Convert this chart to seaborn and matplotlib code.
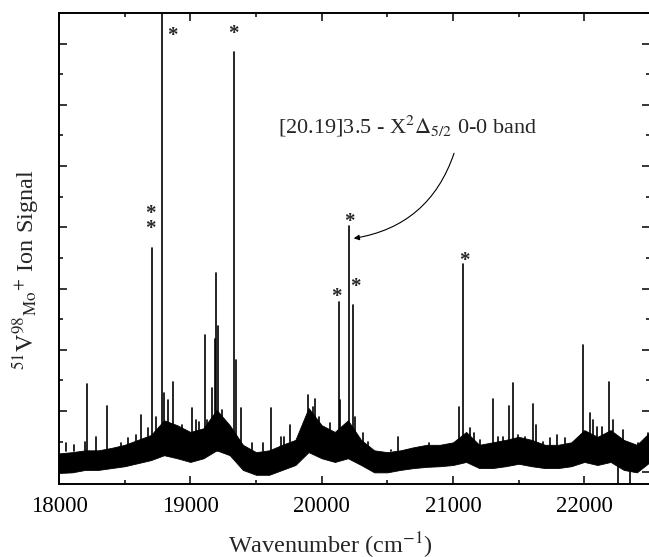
import numpy as np
import pandas as pd
import matplotlib
matplotlib.use("Agg")
import matplotlib.pyplot as plt
import seaborn as sns
from matplotlib.ticker import MultipleLocator

sns.set_style("ticks")
plt.rcParams["font.family"] = ["Liberation Serif", "DejaVu Serif"]
plt.rcParams["mathtext.fontset"] = "stix"

# Noise floor of the scan, read every 100 cm-1 (lower and upper edge)
band_wn = np.arange(18000, 22501, 100)
band_low = [-0.01, 0.00, 0.04, 0.04, 0.07, 0.10, 0.15, 0.20, 0.28, 0.23,
            0.17, 0.23, 0.36, 0.28, 0.04, -0.04, -0.04, 0.04, 0.12, 0.33,
            0.23, 0.17, 0.23, 0.12, 0.00, 0.00, 0.04, 0.07, 0.09, 0.10,
            0.12, 0.17, 0.07, 0.07, 0.10, 0.14, 0.10, 0.07, 0.07, 0.10,
            0.17, 0.12, 0.17, 0.04, 0.00, 0.17]
band_high = [0.31, 0.33, 0.36, 0.36, 0.40, 0.45, 0.53, 0.61, 0.85, 0.77,
             0.66, 0.72, 1.02, 0.77, 0.45, 0.33, 0.36, 0.45, 0.53, 1.05,
             0.77, 0.66, 0.85, 0.53, 0.36, 0.33, 0.36, 0.41, 0.45, 0.45,
             0.49, 0.66, 0.45, 0.49, 0.53, 0.58, 0.53, 0.45, 0.45, 0.49,
             0.69, 0.58, 0.69, 0.53, 0.45, 0.66]

# Resolved lines: position (cm-1) and peak height (arb. units)
peak_wn = [18053, 18115, 18198, 18214, 18282, 18366, 18420, 18473, 18527, 18588,
           18626, 18679, 18708, 18740, 18788, 18802, 18832, 18870, 18939, 19015,
           19046, 19069, 19115, 19130, 19168, 19191, 19198, 19214, 19244, 19282,
           19331, 19344, 19389, 19466, 19557, 19618, 19687, 19710, 19756, 19817,
           19893, 19931, 19947, 19977, 20015, 20061, 20092, 20130, 20137, 20210,
           20237, 20252, 20275, 20313, 20351, 20527, 20580, 20680, 20817, 21000,
           21046, 21076, 21130, 21160, 21206, 21305, 21344, 21382, 21428, 21458,
           21496, 21550, 21611, 21634, 21687, 21741, 21794, 21855, 21916, 21992,
           22046, 22069, 22099, 22138, 22191, 22221, 22298, 22405, 22481]
peak_top = [0.48, 0.45, 0.49, 1.44, 0.58, 1.08, 0.36, 0.48, 0.56, 0.61,
            0.93, 0.72, 3.66, 0.90, 7.80, 1.29, 1.18, 1.47, 0.77, 1.05,
            0.85, 0.82, 2.24, 0.85, 1.38, 2.17, 3.25, 2.39, 1.02, 0.64,
            6.86, 1.83, 1.05, 0.48, 0.48, 1.05, 0.58, 0.58, 0.77, 0.53,
            1.26, 1.07, 1.20, 0.90, 0.64, 0.80, 0.58, 2.78, 1.18, 4.03,
            2.73, 0.90, 0.58, 0.64, 0.49, 0.36, 0.58, 0.36, 0.48, 0.41,
            1.07, 3.40, 0.72, 0.64, 0.53, 1.20, 0.58, 0.58, 1.08, 1.46,
            0.61, 0.58, 1.11, 0.77, 0.49, 0.56, 0.61, 0.56, 0.48, 2.08,
            0.97, 0.85, 0.74, 0.74, 1.47, 0.85, 0.69, 0.48, 0.64]

# Downward glitches near the end of the scan
dip_wn = [22260, 22351]
dip_bottom = [-0.17, -0.17]

# Lines marked with asterisks
star_wn = [18860, 19328, 18695, 18695, 20214, 20115, 20260, 21084]
star_y = [7.12, 7.16, 4.22, 3.98, 4.09, 2.87, 3.03, 3.45]


def main():
    rows = []
    for i, (w, t) in enumerate(zip(peak_wn, peak_top)):
        rows += [(i, w, 0.35), (i, w, t)]
    for j, (w, b) in enumerate(zip(dip_wn, dip_bottom)):
        rows += [(1000 + j, w, 0.10), (1000 + j, w, b)]
    lines = pd.DataFrame(rows, columns=["line", "wn", "signal"])

    fig = plt.figure(figsize=(6.49, 5.57), dpi=100)
    ax = fig.add_axes([59 / 649, 1 - 484 / 557, (650 - 59) / 649, (484 - 13) / 557])

    ax.fill_between(band_wn, band_low, band_high, color="black", lw=0.6)
    sns.lineplot(data=lines, x="wn", y="signal", units="line", estimator=None,
                 color="black", lw=1.2, ax=ax, legend=False)

    for w, y in zip(star_wn, star_y):
        ax.text(w, y, "*", ha="center", va="center", fontsize=15,
                fontweight="bold")

    ax.text(20657, 5.53, r"[20.19]3.5 - X$^2\Delta_{5/2}$ 0-0 band",
            fontsize=16, ha="center", va="baseline")
    ax.annotate("", xy=(20244, 3.82), xytext=(21008, 5.21),
                arrowprops=dict(arrowstyle="-|>", lw=0.8, color="black",
                                connectionstyle="arc3,rad=-0.3",
                                mutation_scale=8, shrinkA=0, shrinkB=0))

    ax.set_xlim(18000, 22500)
    ax.set_ylim(-0.19, 7.5)
    ax.xaxis.set_major_locator(MultipleLocator(1000))
    ax.xaxis.set_minor_locator(MultipleLocator(500))
    ax.yaxis.set_major_locator(MultipleLocator(1))
    ax.yaxis.set_minor_locator(MultipleLocator(0.5))
    ax.tick_params(which="both", direction="in", top=True, right=True,
                   labelleft=False, width=1.1, colors="black")
    ax.tick_params(which="major", length=6)
    ax.tick_params(which="minor", length=3)
    ax.tick_params(axis="x", labelsize=16.5, pad=9)
    for s in ax.spines.values():
        s.set_linewidth(1.4)
        s.set_color("black")

    ax.set_xlabel(r"Wavenumber (cm$^{-1}$)", fontsize=17.5)
    ax.xaxis.set_label_coords((330 - 59) / 590, -0.098)
    ax.set_ylabel(r"$\mathrm{^{51}V^{98}{}_{Mo}{}^{+}}$ Ion Signal", fontsize=17.5)
    ax.yaxis.set_label_coords(-0.03, (484 - 270) / 471)

    fig.savefig("out.png", dpi=100)


if __name__ == "__main__":
    main()
